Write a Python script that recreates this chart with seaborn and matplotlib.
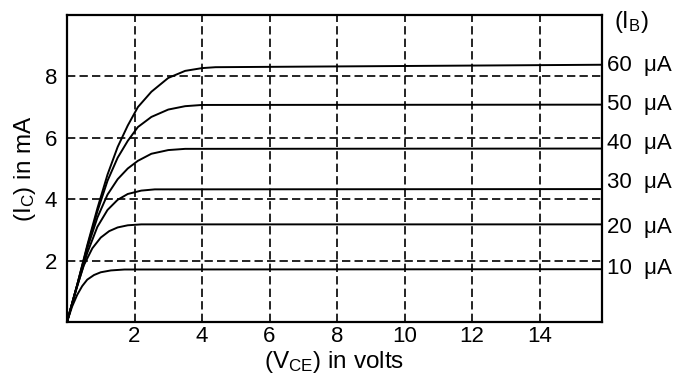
import numpy as np
import pandas as pd
import matplotlib
matplotlib.use("Agg")
import matplotlib.pyplot as plt
import seaborn as sns

# ── Data: transistor output characteristics ──────────────────────────────────
ib_labels = ["10  μA", "20  μA", "30  μA", "40  μA", "50  μA", "60  μA"]
label_levels = [1.73, 3.09, 4.56, 5.83, 7.10, 8.37]

vce_10 = [0, 0.15, 0.3, 0.45, 0.6, 0.8, 1.0, 1.3, 1.7, 15.9]
ic_10 = [0, 0.50, 0.88, 1.17, 1.38, 1.53, 1.62, 1.68, 1.71, 1.72]

vce_20 = [0, 0.25, 0.5, 0.75, 1.0, 1.25, 1.5, 1.8, 2.2, 15.9]
ic_20 = [0, 1.00, 1.85, 2.40, 2.75, 2.96, 3.08, 3.15, 3.18, 3.18]

vce_30 = [0, 0.3, 0.6, 0.9, 1.2, 1.5, 1.8, 2.2, 2.6, 15.9]
ic_30 = [0, 1.15, 2.25, 3.10, 3.65, 3.98, 4.17, 4.28, 4.32, 4.33]

vce_40 = [0, 0.3, 0.6, 0.9, 1.2, 1.5, 1.8, 2.1, 2.5, 3.0, 3.5, 15.9]
ic_40 = [0, 1.20, 2.40, 3.40, 4.15, 4.65, 5.00, 5.25, 5.48, 5.60, 5.64, 5.65]

vce_50 = [0, 0.3, 0.6, 0.9, 1.2, 1.5, 1.8, 2.1, 2.5, 3.0, 3.5, 4.0, 15.9]
ic_50 = [0, 1.20, 2.45, 3.60, 4.60, 5.35, 5.90, 6.35, 6.68, 6.92, 7.03, 7.07, 7.08]

vce_60 = [0, 0.3, 0.6, 0.9, 1.2, 1.5, 1.8, 2.1, 2.5, 3.0, 3.5, 4.0, 4.4, 15.9]
ic_60 = [0, 1.20, 2.50, 3.70, 4.80, 5.70, 6.40, 7.00, 7.50, 7.95, 8.18, 8.27, 8.30, 8.38]

x_ticks = [2, 4, 6, 8, 10, 12, 14]
y_ticks = [2, 4, 6, 8]

curves = [
    (vce_10, ic_10), (vce_20, ic_20), (vce_30, ic_30),
    (vce_40, ic_40), (vce_50, ic_50), (vce_60, ic_60),
]

# ── Style ────────────────────────────────────────────────────────────────────
sns.set_theme(style="white")
plt.rcParams["font.family"] = ["Liberation Sans", "DejaVu Sans"]
plt.rcParams["mathtext.fontset"] = "custom"
plt.rcParams["mathtext.rm"] = "Liberation Sans"
plt.rcParams["mathtext.it"] = "Liberation Sans"

fig = plt.figure(figsize=(6.78, 3.82), dpi=100)
ax = fig.add_axes([67 / 678, 60 / 382, 535 / 678, 307 / 382])

for (v, i), name in zip(curves, ib_labels):
    df = pd.DataFrame({"VCE": v, "IC": i})
    sns.lineplot(data=df, x="VCE", y="IC", color="black", linewidth=1.4,
                 sort=False, estimator=None, ax=ax, zorder=3)

ax.set_xlim(0, 15.85)
ax.set_ylim(0, 10)
ax.set_xticks(x_ticks)
ax.set_yticks(y_ticks)
ax.tick_params(axis="both", length=0, labelsize=16, colors="black")
ax.tick_params(axis="x", pad=3)
ax.tick_params(axis="y", pad=7)

ax.grid(True, color="black", linestyle=(0, (5, 2.5)), linewidth=1.2)
ax.set_axisbelow(True)
for s in ax.spines.values():
    s.set_color("black")
    s.set_linewidth(1.6)

ax.set_xlabel(r"(V$_{\mathrm{CE}}$) in volts", fontsize=17.5, color="black", labelpad=1)
ax.set_ylabel(r"(I$_{\mathrm{C}}$) in mA", fontsize=17.5, color="black", labelpad=5)

# I_B labels on the right
for name, lev in zip(ib_labels, label_levels):
    ax.annotate(name, xy=(1.009, lev), xycoords=("axes fraction", "data"),
                fontsize=16, va="center", ha="left", color="black",
                annotation_clip=False)
ax.annotate(r"(I$_{\mathrm{B}}$)", xy=(1.022, 9.77), xycoords=("axes fraction", "data"),
            fontsize=17, va="center", ha="left", color="black",
            annotation_clip=False)

fig.savefig("out.png", dpi=100)
